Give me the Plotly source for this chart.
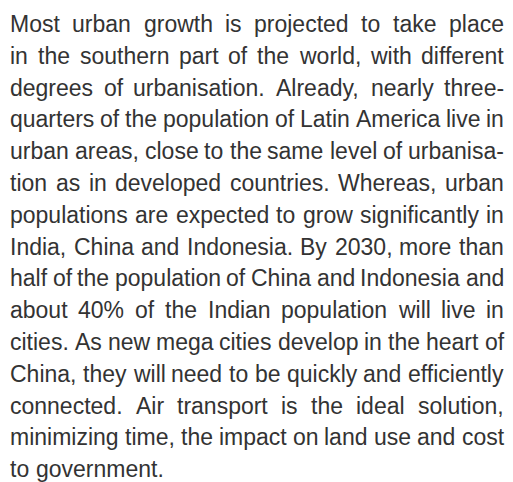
import plotly.graph_objects as go

# Text content, one entry per typeset line
lines = [
    "Most urban growth is projected to take place",
    "in the southern part of the world, with different",
    "degrees of urbanisation. Already, nearly three-",
    "quarters of the population of Latin America live in",
    "urban areas, close to the same level of urbanisa-",
    "tion as in developed countries. Whereas, urban",
    "populations are expected to grow significantly in",
    "India, China and Indonesia. By 2030, more than",
    "half of the population of China and Indonesia and",
    "about 40% of the Indian population will live in",
    "cities. As new mega cities develop in the heart of",
    "China, they will need to be quickly and efficiently",
    "connected. Air transport is the ideal solution,",
    "minimizing time, the impact on land use and cost",
    "to government.",
]

# Arial / Liberation Sans advance widths (units per 1000 em)
W = {' ': 278, ',': 278, '.': 278, '-': 333, '%': 889, '0': 556, '1': 556, '2': 556,
     '3': 556, '4': 556, '5': 556, '6': 556, '7': 556, '8': 556, '9': 556,
     'A': 667, 'B': 667, 'C': 722, 'D': 722, 'E': 667, 'F': 611, 'G': 778, 'H': 722,
     'I': 278, 'J': 500, 'K': 667, 'L': 556, 'M': 833, 'N': 722, 'O': 778, 'P': 667,
     'Q': 778, 'R': 722, 'S': 667, 'T': 611, 'U': 722, 'V': 667, 'W': 944, 'X': 667,
     'Y': 667, 'Z': 611, 'a': 556, 'b': 556, 'c': 500, 'd': 556, 'e': 556, 'f': 278,
     'g': 556, 'h': 556, 'i': 222, 'j': 222, 'k': 500, 'l': 222, 'm': 833, 'n': 556,
     'o': 556, 'p': 556, 'q': 556, 'r': 333, 's': 500, 't': 278, 'u': 556, 'v': 500,
     'w': 722, 'x': 500, 'y': 500, 'z': 500}

FONT = "Liberation Sans, Arial, Helvetica, sans-serif"
SIZE = 23
COLOR = "#333333"
LEFT, RIGHT = 9, 503
BASE0, LEAD = 32.0, 31.8


def wwidth(word):
    return sum(W.get(c, 556) for c in word) * SIZE / 1000.0


annotations = []
for i, line in enumerate(lines):
    words = line.split(" ")
    widths = [wwidth(w) for w in words]
    last = (i == len(lines) - 1)
    if last or len(words) == 1:
        gap = wwidth(" ")
    else:
        gap = (RIGHT - LEFT - sum(widths)) / (len(words) - 1)
    y = BASE0 + i * LEAD - 0.3465 * SIZE
    x = LEFT
    for w, wd in zip(words, widths):
        annotations.append(dict(
            x=x, y=y, xref="x", yref="y", text=w, showarrow=False,
            xanchor="left", yanchor="middle", borderpad=0,
            font=dict(family=FONT, size=SIZE, color=COLOR),
        ))
        x += wd + gap

fig = go.Figure()
fig.update_layout(
    width=513, height=482,
    margin=dict(l=0, r=0, t=0, b=0),
    paper_bgcolor="white", plot_bgcolor="white",
    xaxis=dict(range=[0, 513], visible=False, fixedrange=True),
    yaxis=dict(range=[482, 0], visible=False, fixedrange=True),
    annotations=annotations,
    showlegend=False,
)
fig.write_html(
    "out.html",
    config={"displayModeBar": False},
    post_script="document.body.style.margin='0';document.body.style.overflow='hidden';",
)
